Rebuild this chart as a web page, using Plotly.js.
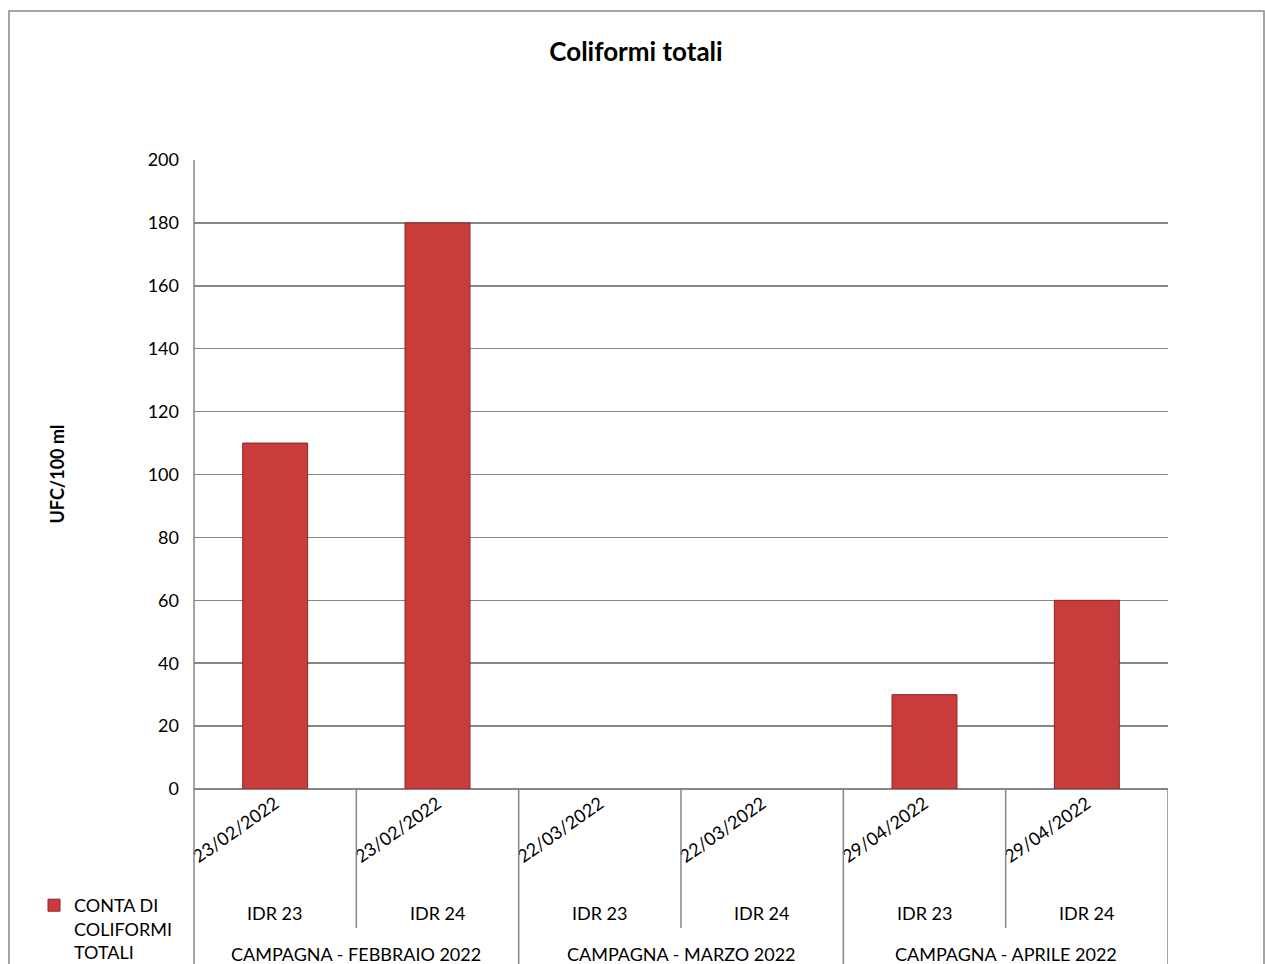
<!DOCTYPE html>
<html>
<head>
<meta charset="utf-8">
<script src="https://cdn.plot.ly/plotly-3.0.1.min.js"></script>
<style>html,body{margin:0;padding:0;background:#fff;}#chart{width:1265px;height:964px;}</style>
</head>
<body>
<div id="chart"></div>
<script>
const dates = ["23/02/2022","23/02/2022","22/03/2022","22/03/2022","29/04/2022","29/04/2022"];
const sites = ["IDR 23","IDR 24","IDR 23","IDR 24","IDR 23","IDR 24"];
const campaigns = ["CAMPAGNA - FEBBRAIO 2022","CAMPAGNA - MARZO 2022","CAMPAGNA - APRILE 2022"];
const values = [110, 180, null, null, 30, 60];
const seriesName = "CONTA DI<br>COLIFORMI<br>TOTALI";
const yTicks = [0,20,40,60,80,100,120,140,160,180,200];

const FONT = "Lato, 'Open Sans', sans-serif";
const idx = dates.map((d,i)=>i);

const L=194, R=1168, T=160, B=789;
const px = p => (p-L)/(R-L);
const py = p => (B-p)/(B-T);

const shapes = [];
shapes.push({type:'rect', xref:'paper', yref:'paper', x0:px(9), x1:px(1264), y0:py(975), y1:py(11),
  line:{color:'#868686', width:1.5}, fillcolor:'rgba(0,0,0,0)', layer:'below'});
shapes.push({type:'line', xref:'paper', yref:'paper', x0:0, x1:0, y0:py(975), y1:1, line:{color:'#868686', width:1.5}});
for (let g=0; g<campaigns.length; g++) {
  shapes.push({type:'line', xref:'x', yref:'paper', x0:2*g+0.5, x1:2*g+0.5, y0:py(928), y1:0, line:{color:'#868686', width:1.5}});
}
for (let g=1; g<=campaigns.length; g++) {
  shapes.push({type:'line', xref:'x', yref:'paper', x0:2*g-0.5, x1:2*g-0.5, y0:py(975), y1:0, line:{color:'#868686', width:1.5}});
}

const annotations = [];
sites.forEach((s,i)=>{
  annotations.push({xref:'x', yref:'paper', x:i, y:py(913), text:s, showarrow:false,
    xanchor:'center', yanchor:'middle', font:{family:FONT, size:18, color:'#000'}});
});
campaigns.forEach((c,g)=>{
  annotations.push({xref:'x', yref:'paper', x:2*g+0.5, y:py(954), text:c, showarrow:false,
    xanchor:'center', yanchor:'middle', font:{family:FONT, size:18, color:'#000'}});
});
annotations.push({xref:'paper', yref:'paper', x:px(56), y:0.5, text:'<b>UFC/100 ml</b>', textangle:-90,
  showarrow:false, xanchor:'center', yanchor:'middle', font:{family:FONT, size:18, color:'#000'}});

const data = [{
  type:'bar', x:idx, y:values, name:seriesName, width:0.4,
  marker:{color:'#c83c3c', line:{color:'#8e2525', width:1}},
  showlegend:true
}];

const layout = {
  width:1265, height:964,
  margin:{l:L, r:1265-R, t:T, b:964-B, autoexpand:false},
  paper_bgcolor:'#fff', plot_bgcolor:'#fff',
  font:{family:FONT, size:18, color:'#000'},
  title:{text:'<b>Coliformi totali</b>', xref:'container', yref:'container', x:636/1265, y:1-52/964,
    xanchor:'center', yanchor:'middle', font:{family:FONT, size:26, color:'#000'}},
  xaxis:{range:[-0.5,5.5], tickvals:idx, ticktext:dates, tickangle:-35, showgrid:false, zeroline:false,
    automargin:false, showline:false, ticks:'', tickfont:{family:FONT, size:18, color:'#000'}, fixedrange:true},
  yaxis:{range:[0,200], tickvals:yTicks, showgrid:true, gridcolor:'#868686', gridwidth:1.5, automargin:false,
    zeroline:true, zerolinecolor:'#868686', zerolinewidth:1.5, showline:false, ticks:'',
    ticklabelstandoff:14, tickfont:{family:FONT, size:18, color:'#000'}},
  legend:{x:px(34), y:py(887), xanchor:'left', yanchor:'top', valign:'top', bgcolor:'rgba(0,0,0,0)',
    font:{family:FONT, size:18, color:'#000'}, itemwidth:30, tracegroupgap:0},
  shapes:shapes, annotations:annotations, bargap:0.6
};

Plotly.newPlot('chart', data, layout, {displayModeBar:false, staticPlot:true});
</script>
</body>
</html>
